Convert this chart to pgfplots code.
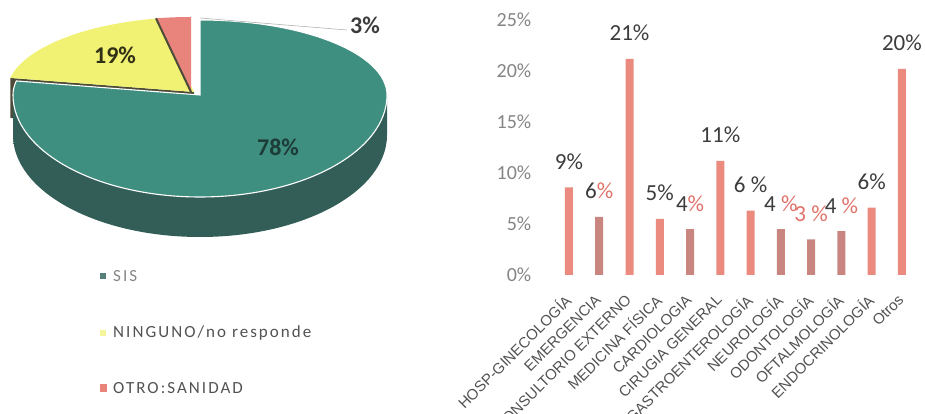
\documentclass[border=0pt]{standalone}
\usepackage{pgfplots}
\pgfplotsset{compat=1.18}
\usepackage{fontspec}
\setmainfont{Carlito}
\newfontfamily\arialfont{Liberation Sans}
\newfontfamily\legfont[LetterSpace=12]{Carlito}

\definecolor{tealtop}{HTML}{3E8F80}
\definecolor{tealside}{HTML}{3A8074}
\definecolor{tealedge}{HTML}{335E58}
\definecolor{tealdark}{HTML}{2A544F}
\definecolor{yel}{HTML}{F1F173}
\definecolor{pier}{HTML}{E8847C}
\definecolor{cutface}{HTML}{4B4B38}
\definecolor{salmon}{HTML}{EB8A7F}
\definecolor{rose}{HTML}{C98680}
\definecolor{txtdark}{HTML}{3C3C3C}
\definecolor{txtgray}{HTML}{858585}
\definecolor{lblgray}{HTML}{525252}
\definecolor{pctred}{HTML}{E0726A}

\begin{document}
\begin{tikzpicture}
\useasboundingbox (0,0) rectangle (925pt,414pt);
\clip (0,0) rectangle (925pt,414pt);

% pie values (percent)
\def\vSIS{78}
\def\vNIN{19}
\def\vOTR{3}
\pgfmathsetmacro\aA{90-3.6*\vSIS}
\pgfmathsetmacro\aB{\aA-3.6*\vNIN}
\pgfmathsetmacro\aC{\aB-3.6*\vOTR}

% ---------------- pie + legend ----------------
% back half of the disc is flatter (ry 75) than the front half (ry 102)
\begin{axis}[
  at={(0pt,0pt)}, anchor=south west,
  x=1pt, y=1pt, xmin=0, xmax=440, ymin=0, ymax=414,
  hide axis, clip=false]
  % cut face of the yellow slice
  \fill[cutface] (axis cs:194,322) -- ([shift={(\aA:187pt and 75pt)}]axis cs:194,322)
     -- ++(0,-40pt) -- (axis cs:194,282) -- cycle;
  % side of the teal slice
  \path[left color=tealedge, middle color=tealside, right color=tealedge]
     ([shift={(180:187pt and 102pt)}]axis cs:200,319)
     arc[start angle=180, end angle=360, x radius=187pt, y radius=102pt]
     -- ++(0,-40pt)
     arc[start angle=360, end angle=180, x radius=187pt, y radius=102pt] -- cycle;
  % teal top
  \fill[tealtop, draw=white, line width=1.1pt] (axis cs:200,319)
     -- ([shift={(90:187pt and 75pt)}]axis cs:200,319)
     arc[start angle=90, end angle=0, x radius=187pt, y radius=75pt]
     arc[start angle=0, end angle=-180, x radius=187pt, y radius=102pt]
     arc[start angle=-180, end angle=\aA, x radius=187pt, y radius=75pt] -- cycle;
  % yellow top
  \fill[yel] (axis cs:194,322)
     -- ([shift={(\aA:187pt and 75pt)}]axis cs:194,322)
     arc[start angle=\aA, end angle=\aB, x radius=187pt, y radius=75pt] -- cycle;
  % red top
  \fill[pier] (axis cs:191,322)
     -- ([shift={(\aB:187pt and 75pt)}]axis cs:191,322)
     arc[start angle=\aB, end angle=\aC, x radius=187pt, y radius=75pt] -- cycle;
  \draw[cutface, line width=2pt] (axis cs:191,322) -- ([shift={(\aB:187pt and 75pt)}]axis cs:191,322);
  % labels
  \draw[gray!60, line width=0.6pt] (axis cs:200,396) -- (axis cs:347,384);
  \node[font=\bfseries\fontsize{24}{26}\selectfont, text=txtdark] at (axis cs:365,389) {3\%};
  \node[font=\bfseries\fontsize{24}{26}\selectfont, text=black!80!yel] at (axis cs:115,359) {19\%};
  \node[font=\bfseries\fontsize{24}{26}\selectfont, text=tealdark!70!black] at (axis cs:278,267) {78\%};
  % legend
  \fill[tealside!60!gray] (axis cs:100,135) rectangle (axis cs:106,141);
  \fill[yel!70] (axis cs:100,78) rectangle (axis cs:106,84);
  \fill[pier] (axis cs:100,22) rectangle (axis cs:107,30);
  \node[anchor=west, inner sep=0pt, font=\legfont\fontsize{17}{19}\selectfont, text=txtgray] at (axis cs:113,138) {SIS};
  \node[anchor=west, inner sep=0pt, font=\legfont\fontsize{17}{19}\selectfont, text=lblgray] at (axis cs:113,81) {NINGUNO/no responde};
  \node[anchor=west, inner sep=0pt, font=\legfont\fontsize{17}{19}\selectfont, text=lblgray] at (axis cs:113,26) {OTRO:SANIDAD};
\end{axis}

% ---------------- bar chart ----------------
\begin{axis}[
  at={(550.8pt,139pt)}, anchor=south west,
  x=30.27pt, y=10.2pt,
  xmin=-0.6, xmax=11.6, ymin=0, ymax=25,
  axis line style={draw=none}, tick style={draw=none},
  ytick={0,5,...,25},
  yticklabel={\pgfmathprintnumber{\tick}\%},
  /pgf/number format/assume math mode=true,
  yticklabel style={font=\fontsize{20}{22}\selectfont, text=txtgray, xshift=-16pt},
  xtick={0,...,11},
  xticklabels={HOSP-GINECOLOGÍA, EMERGENCIA, CONSULTORIO EXTERNO, MEDICINA FÍSICA, CARDIOLOGIA, CIRUGIA GENERAL, GASTROENTEROLOGÍA, NEUROLOGÍA, ODONTOLOGÍA, OFTALMOLOGÍA, ENDOCRINOLOGÍA, Otros},
  xticklabel style={xshift=-1pt, yshift=-18pt, rotate=45, anchor=east, inner sep=0pt, font=\arialfont\fontsize{15}{17}\selectfont, text=lblgray},
  ybar, bar width=8pt, bar shift=0pt,
  point meta=explicit symbolic,
  nodes near coords,
  nodes near coords style={anchor=base, inner sep=0pt, yshift=18pt, font=\fontsize{23}{25}\selectfont, text=txtdark},
  clip=false]
\addplot[fill=salmon, draw=none] coordinates {
  (0,8.6) [9\%]
  (2,21.2) [21\%]
  (3,5.5) [5\%]
  (5,11.2) [11\%]
  (6,6.3) [6 \%]
  (10,6.6) [6\%]
  (11,20.2) [20\%]
};
\addplot[fill=rose, draw=none] coordinates {
  (1,5.7) [6\textcolor{pctred}{\%}]
  (4,4.5) [4\textcolor{pctred}{\%}]
  (7,4.5) [4 \textcolor{pctred}{\%}]
  (8,3.5) [\textcolor{pctred}{3 \%}]
  (9,4.3) [4 \textcolor{pctred}{\%}]
};
\end{axis}
\end{tikzpicture}
\end{document}
